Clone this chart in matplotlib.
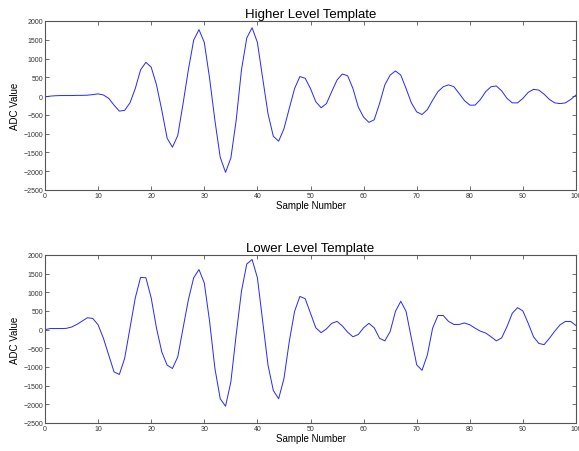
import matplotlib
matplotlib.use("Agg")
import matplotlib.pyplot as plt
import numpy as np

samples = list(range(101))

higher_template = [
    -20, 0, 10, 15, 15, 15, 20, 20, 25, 40,
    60, 30, -60, -240, -400, -380, -180, 200, 700, 900,
    770, 300, -380, -1120, -1360, -1050, -200, 700, 1490, 1770,
    1430, 470, -650, -1630, -2030, -1650, -650, 700, 1550, 1820,
    1430, 470, -470, -1070, -1200, -870, -330, 200, 520, 475,
    200, -150, -310, -200, 120, 430, 590, 540, 200, -290,
    -560, -700, -630, -200, 300, 560, 670, 560, 200, -180,
    -420, -490, -360, -110, 120, 250, 300, 250, 70, -120,
    -240, -240, -90, 120, 250, 270, 140, -60, -180, -180,
    -60, 100, 180, 160, 50, -90, -180, -200, -180, -90,
    30,
]

lower_template = [
    0, 30, 30, 30, 35, 70, 140, 230, 320, 300,
    130, -230, -680, -1130, -1200, -770, 40, 850, 1400, 1390,
    850, 40, -600, -950, -1040, -730, 40, 800, 1390, 1610,
    1250, 220, -1040, -1850, -2050, -1400, -140, 1030, 1760, 1880,
    1390, 220, -950, -1630, -1850, -1310, -320, 490, 890, 830,
    440, 50, -80, 20, 170, 220, 100, -70, -190, -130,
    50, 170, 50, -230, -300, -50, 490, 760, 490, -230,
    -940, -1090, -680, 40, 380, 380, 220, 140, 140, 180,
    130, 40, -40, -90, -190, -300, -220, 80, 440, 590,
    500, 170, -190, -370, -400, -230, -40, 130, 220, 220,
    110,
]

titles = ["Higher Level Template", "Lower Level Template"]
x_ticks = list(range(0, 101, 10))
y_ticks = list(range(-2500, 2001, 500))

plt.rcParams['font.family'] = ['Liberation Sans', 'DejaVu Sans']

fig = plt.figure(figsize=(5.79, 4.52), dpi=100)
positions = [
    [45 / 579, 1 - 191 / 452, 531 / 579, 169 / 452],
    [45 / 579, 1 - 424 / 452, 531 / 579, 168 / 452],
]

for pos, data, title in zip(positions, [higher_template, lower_template], titles):
    ax = fig.add_axes(pos)
    ax.plot(samples, data, color=(0.15, 0.15, 1.0), linewidth=0.7)
    ax.set_xlim(0, 100)
    ax.set_ylim(-2500, 2000)
    ax.set_xticks(x_ticks)
    ax.set_yticks(y_ticks)
    ax.tick_params(direction='in', length=3, width=0.6, colors='#555555',
                   labelsize=5, labelcolor='#333333', top=True, right=True, pad=1.5)
    for sp in ax.spines.values():
        sp.set_color('#555555')
        sp.set_linewidth(0.8)
    ax.set_title(title, fontsize=9.5, pad=3)
    ax.set_xlabel("Sample Number", fontsize=7, labelpad=1)
    ax.set_ylabel("ADC Value", fontsize=7, labelpad=2)

fig.savefig("out.png", dpi=100)
